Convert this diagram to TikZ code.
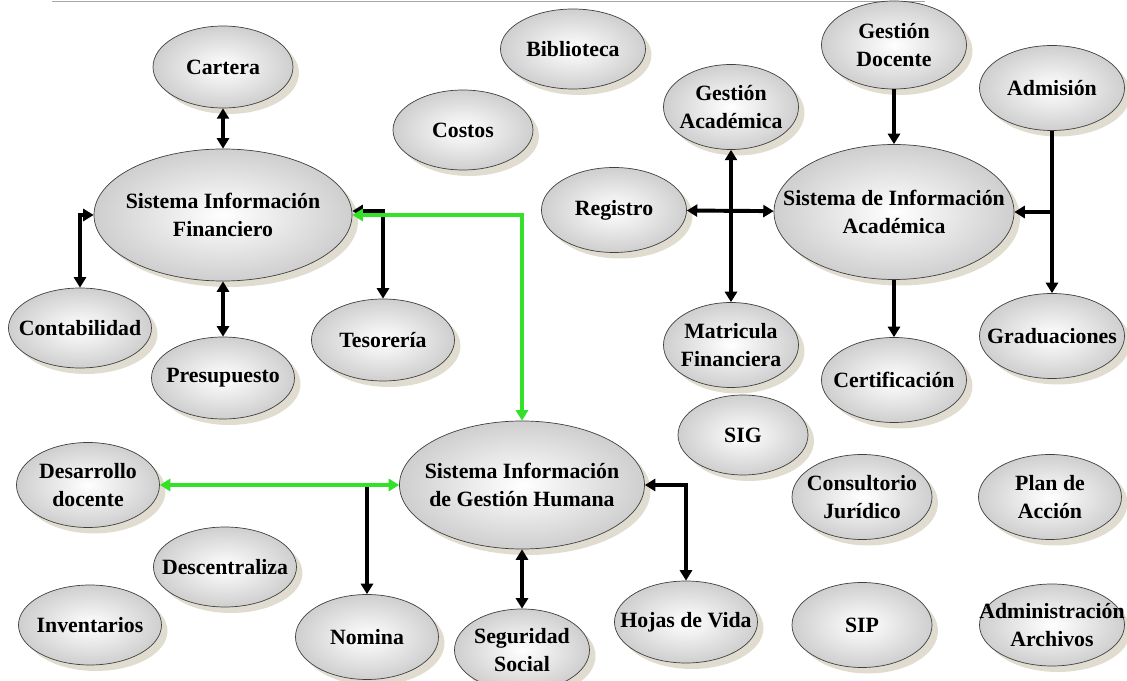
\documentclass[tikz,border=0pt]{standalone}
\usepackage{fontspec}
\setmainfont{Liberation Serif}
\usetikzlibrary{shapes.geometric,shadows,arrows.meta}
\definecolor{Sombra}{RGB}{224,221,208}
\definecolor{Verde}{RGB}{50,225,40}

\begin{document}
\begin{tikzpicture}[x=0.025cm,y=-0.025cm,
    VertexStyle/.style 2 args={ellipse, draw=black!75, line width=0.5pt,
      inner color=white, outer color=black!19,
      drop shadow={shadow xshift=1.5mm, shadow yshift=-1.5mm, fill=Sombra, opacity=1},
      minimum width=#1*0.025cm, minimum height=#2*0.025cm,
      inner xsep=-45pt, inner ysep=-15pt,
      align=center, font=\fontsize{15.5}{19.5}\selectfont\bfseries},
    >={Triangle[length=2.6mm,width=3mm]}]
    \useasboundingbox (0,0) rectangle (1127,681);
    \draw[black!35, line width=0.6pt] (52,1) -- (925,1);

    \node[VertexStyle={258}{132}] (SIF)  at (223,215) {Sistema Información\\Financiero};
    \node[VertexStyle={140}{82}]  (Cart) at (223,67)  {Cartera};
    \node[VertexStyle={143}{80}]  (Cont) at (80,328)  {Contabilidad};
    \node[VertexStyle={143}{82}]  (Pres) at (223,378) {Presupuesto};
    \node[VertexStyle={143}{82}]  (Teso) at (383,340) {Tesorería};
    \node[VertexStyle={140}{80}]  (Cost) at (463,130) {Costos};
    \node[VertexStyle={145}{80}]  (Bibl) at (573,49)  {Biblioteca};

    \node[VertexStyle={240}{135}] (SIA)  at (894,212) {Sistema de Información\\Académica};
    \node[VertexStyle={135}{85}]  (GAca) at (731,107) {Gestión\\Académica};
    \node[VertexStyle={145}{88}]  (GDoc) at (894,45)  {Gestión\\Docente};
    \node[VertexStyle={145}{85}]  (Admi) at (1052,88) {Admisión};
    \node[VertexStyle={145}{85}]  (Regi) at (614,210) {Registro};
    \node[VertexStyle={135}{85}]  (MFin) at (731,345) {Matricula\\Financiera};
    \node[VertexStyle={145}{85}]  (Cert) at (894,380) {Certificación};
    \node[VertexStyle={145}{85}]  (Grad) at (1052,336) {Graduaciones};

    \node[VertexStyle={245}{128}] (SIGH) at (522,485) {Sistema Información\\de Gestión Humana};
    \node[VertexStyle={143}{85}]  (Desa) at (88,485)  {Desarrollo\\docente};
    \node[VertexStyle={143}{80}]  (Desc) at (225,567) {Descentraliza};
    \node[VertexStyle={143}{80}]  (Inve) at (90,625)  {Inventarios};
    \node[VertexStyle={143}{85}]  (Nomi) at (367,637) {Nomina};
    \node[VertexStyle={135}{82}]  (Segu) at (522,650) {Seguridad\\Social};
    \node[VertexStyle={143}{82}]  (Hoja) at (686,622) {Hojas de Vida};

    \node[VertexStyle={130}{80}]  (SIG)  at (743,435) {SIG};
    \node[VertexStyle={140}{85}]  (Cons) at (862,497) {Consultorio\\Jurídico};
    \node[VertexStyle={143}{85}]  (Plan) at (1050,497) {Plan de\\Acción};
    \node[VertexStyle={140}{85}]  (SIP)  at (862,625) {SIP};
    \node[VertexStyle={145}{82}]  (Admn) at (1052,625) {Administración\\Archivos};

    \coordinate (NomiJunta) at (Desa -| Nomi);
    \coordinate (AdmiJunta) at (SIA -| Admi);

    \tikzset{EdgeStyle/.style = {line width=2.8pt, color = black}}
    \draw[EdgeStyle,<->] (Cart) -- (SIF);
    \draw[EdgeStyle,<->] (Cont.north) |- (SIF.west);
    \draw[EdgeStyle,<->] (SIF) -- (Pres);
    \draw[EdgeStyle,<->] ([yshift=1mm]SIF.east) -| (Teso.north);
    \draw[EdgeStyle,<->] (SIGH) -- (Segu);
    \draw[EdgeStyle,<->] (SIGH.east) -| (Hoja.north);
    \draw[EdgeStyle,->] (NomiJunta) -- (Nomi);
    \draw[EdgeStyle,->] (GDoc) -- (SIA);
    \draw[EdgeStyle,->] (SIA) -- (Cert);
    \draw[EdgeStyle,<->] (Regi) -- (SIA);
    \draw[EdgeStyle,<->] (GAca) -- (MFin);
    \draw[EdgeStyle,->] (Admi) -- (Grad);
    \draw[EdgeStyle,->] (AdmiJunta) -- (SIA);

    \tikzset{EdgeStyle/.style = {line width=2.8pt, color = Verde}}
    \draw[EdgeStyle,<->] (SIF.east) -| (SIGH.north);
    \draw[EdgeStyle,<->] (Desa) -- (SIGH);

\end{tikzpicture}
\end{document}
